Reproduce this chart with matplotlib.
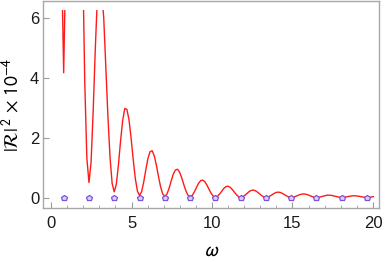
import numpy as np
import matplotlib
matplotlib.use("Agg")
import matplotlib.pyplot as plt
from matplotlib.patches import Rectangle

plt.rcParams['font.family'] = ['Liberation Sans', 'DejaVu Sans']
plt.rcParams['mathtext.fontset'] = 'stixsans'

# curve sampled on a regular grid omega = pi/4 + k*pi/24, k = -2 .. 147
k_start, k_stop = -2, 147
curve_vals = [
    20.0, 8.0,
    # lobe 0 (k=0..11)
    4.16, 8.0, 25.0, 30.0, 28.0, 24.0, 20.0, 16.0, 12.0, 8.1, 3.85, 1.32,
    # lobe 1 (k=12..23)
    0.5, 1.18, 2.89, 4.94, 6.7, 7.2, 6.9, 6.0, 4.33, 2.70, 1.34, 0.47,
    # lobe 2 (k=24..35)
    0.19, 0.45, 1.10, 1.89, 2.57, 2.97, 2.94, 2.59, 1.98, 1.27, 0.635, 0.216,
    # lobe 3 (k=36..47)
    0.07, 0.196, 0.523, 0.934, 1.305, 1.531, 1.56, 1.39, 1.077, 0.70, 0.356, 0.121,
    # lobe 4 (k=48..59)
    0.04, 0.113, 0.305, 0.549, 0.774, 0.917, 0.944, 0.850, 0.664, 0.437, 0.224, 0.078,
    # lobe 5 (k=60..71)
    0.025, 0.069, 0.184, 0.333, 0.472, 0.563, 0.583, 0.528, 0.415, 0.273, 0.140, 0.048,
    # lobe 6 (k=72..83)
    0.015, 0.042, 0.117, 0.213, 0.304, 0.364, 0.379, 0.345, 0.272, 0.181, 0.093, 0.032,
    # lobe 7 (k=84..95)
    0.010, 0.027, 0.075, 0.138, 0.198, 0.239, 0.249, 0.227, 0.181, 0.120, 0.063, 0.022,
    # lobe 8 (k=96..107)
    0.008, 0.021, 0.055, 0.100, 0.143, 0.173, 0.181, 0.165, 0.131, 0.088, 0.047, 0.017,
    # lobe 9 (k=108..119)
    0.007, 0.014, 0.037, 0.066, 0.095, 0.114, 0.120, 0.110, 0.088, 0.060, 0.032, 0.013,
    # lobe 10 (k=120..131)
    0.006, 0.010, 0.025, 0.045, 0.063, 0.076, 0.080, 0.074, 0.059, 0.041, 0.023, 0.010,
    # lobe 11 (k=132..143)
    0.005, 0.008, 0.019, 0.033, 0.047, 0.057, 0.060, 0.055, 0.045, 0.031, 0.017, 0.008,
    # tail (k=144..147)
    0.004, 0.007, 0.017, 0.029,
]
curve_omega = np.pi / 4 + np.arange(k_start, k_stop + 1) * np.pi / 24

point_omega = [0.785, 2.356, 3.927, 5.498, 7.069, 8.639, 10.21, 11.78,
               13.35, 14.92, 16.49, 18.06, 19.63]
point_vals = [-0.03] * len(point_omega)

x_ticks = [0, 5, 10, 15, 20]
y_ticks = [0, 2, 4, 6]
clip_top = 6.24

fig = plt.figure(figsize=(3.85, 2.62), dpi=100)
ax = fig.add_axes([0.1125, 0.207, 0.8725, 0.789])

line, = ax.plot(curve_omega, curve_vals, color='#ff1a1a', lw=1.0, zorder=3)
rect = Rectangle((-5, -5), 40, clip_top + 5, transform=ax.transData,
                 facecolor='none', edgecolor='none')
line.set_clip_path(rect)

ax.plot(point_omega, point_vals, linestyle='none', marker='p', ms=4.3,
        mfc='#dccfff', mec='#7a52dc', mew=0.9, zorder=4)

ax.set_xlim(-0.48, 20.39)
ax.set_ylim(-0.34, 6.55)
ax.set_xticks(x_ticks)
ax.set_yticks(y_ticks)
ax.set_xticks(np.arange(0, 21, 1), minor=True)

for s in ax.spines.values():
    s.set_color('#a8a8a8')
    s.set_linewidth(1.0)

ax.tick_params(axis='both', which='major', direction='in', length=4, width=0.8,
               color='#9a9a9a', labelsize=12, labelcolor='#1a1a1a')
ax.tick_params(axis='x', which='minor', direction='in', length=2.5, width=0.6,
               color='#9a9a9a')
ax.tick_params(axis='x', which='major', pad=6)
ax.tick_params(axis='y', which='major', pad=3)

ax.set_xlabel(r'$\omega$', fontsize=15, labelpad=7)
ax.set_ylabel(r'$|\mathcal{R}|^{\,2}\,\times\,10^{-4}$', fontsize=14, labelpad=5)

fig.savefig('out.png', dpi=100)
